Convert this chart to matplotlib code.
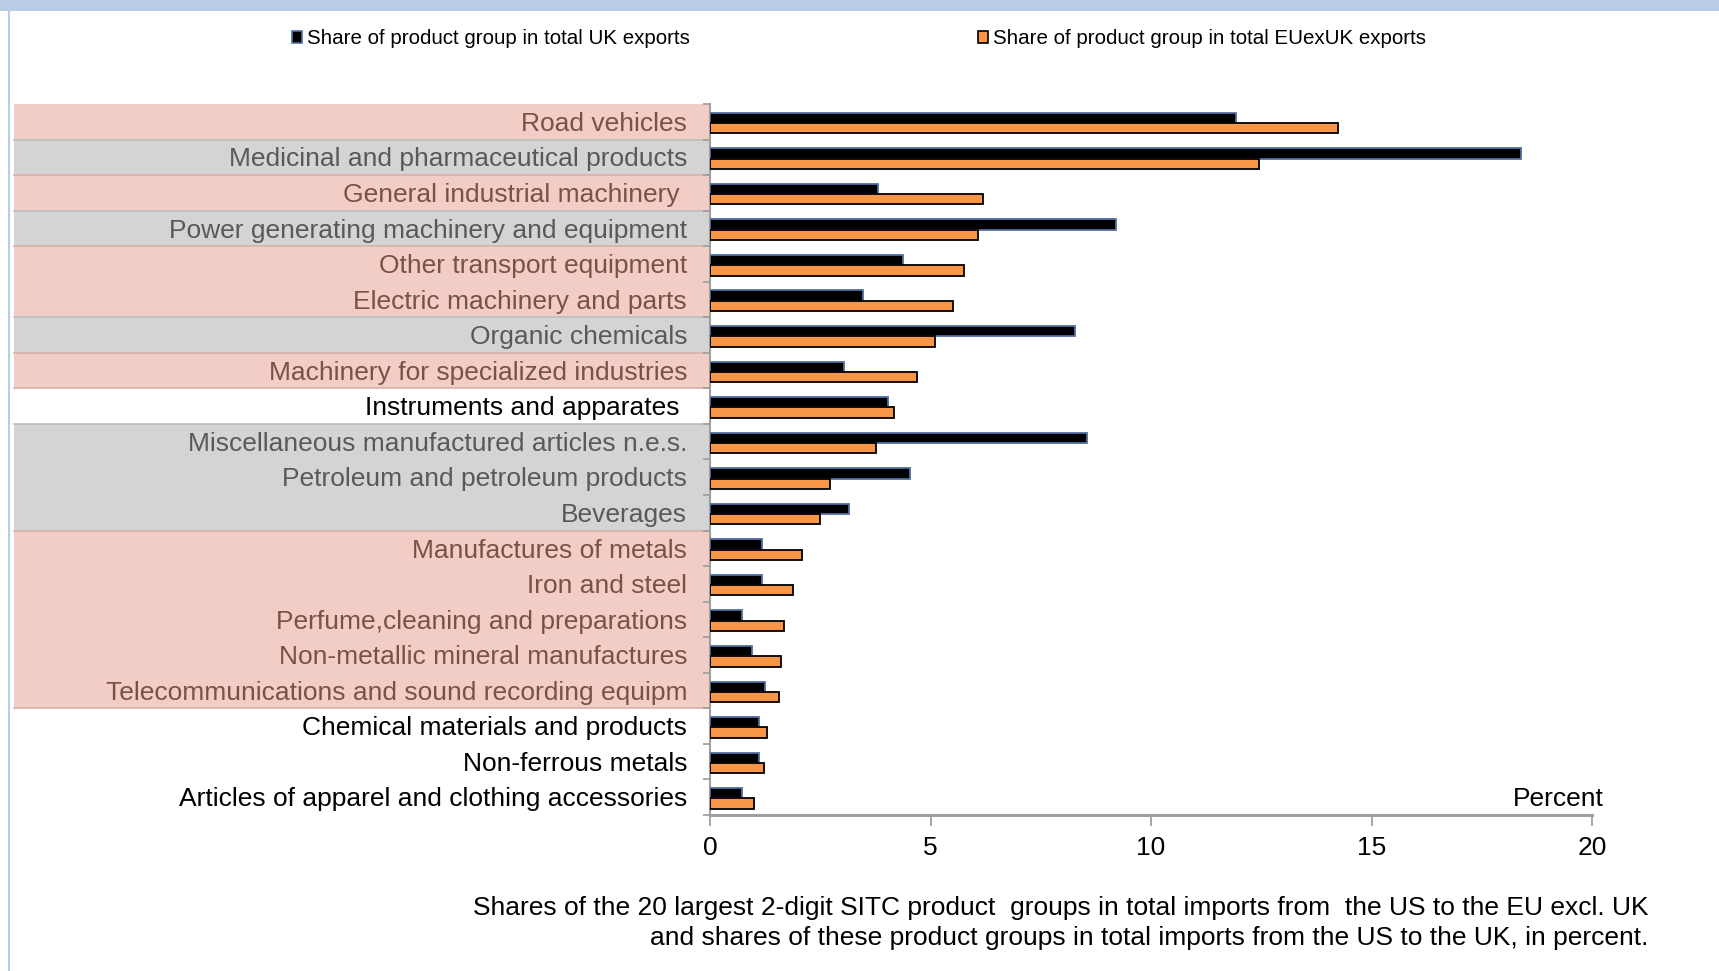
import matplotlib
matplotlib.use("Agg")
import matplotlib.pyplot as plt
from matplotlib.patches import Rectangle, Patch
from matplotlib.transforms import blended_transform_factory

plt.rcParams['font.family'] = ['Liberation Sans', 'DejaVu Sans']

categories = [
    "Road vehicles",
    "Medicinal and pharmaceutical products",
    "General industrial machinery ",
    "Power generating machinery and equipment",
    "Other transport equipment",
    "Electric machinery and parts",
    "Organic chemicals",
    "Machinery for specialized industries",
    "Instruments and apparates ",
    "Miscellaneous manufactured articles n.e.s.",
    "Petroleum and petroleum products",
    "Beverages",
    "Manufactures of metals",
    "Iron and steel",
    "Perfume,cleaning and preparations",
    "Non-metallic mineral manufactures",
    "Telecommunications and sound recording equipm",
    "Chemical materials and products",
    "Non-ferrous metals",
    "Articles of apparel and clothing accessories",
]
uk_share = [11.92, 18.38, 3.81, 9.20, 4.38, 3.48, 8.28, 3.03, 4.03, 8.56,
            4.53, 3.16, 1.17, 1.17, 0.72, 0.95, 1.24, 1.12, 1.12, 0.72]
eu_share = [14.23, 12.46, 6.19, 6.07, 5.75, 5.52, 5.10, 4.70, 4.18, 3.76,
            2.71, 2.49, 2.09, 1.89, 1.67, 1.62, 1.57, 1.29, 1.22, 0.99]
# band group per category: p = pink, g = grey, w = white
groups = ["p", "g", "p", "g", "p", "p", "g", "p", "w", "g",
          "g", "g", "p", "p", "p", "p", "p", "w", "w", "w"]
legend_labels = ["Share of product group in total UK exports",
                 "Share of product group in total EUexUK exports"]
xticks = [0, 5, 10, 15, 20]
caption = ("Shares of the 20 largest 2-digit SITC product  groups in total imports from  the US to the EU excl. UK\n"
           "and shares of these product groups in total imports from the US to the UK, in percent.")

FS = 19
W, H = 1719, 971
fig = plt.figure(figsize=(W / 100, H / 100), dpi=100)
ax_left, ax_right, ax_top, ax_bot = 710, 1592, 104, 815
ax = fig.add_axes([ax_left / W, 1 - ax_bot / H, (ax_right - ax_left) / W, (ax_bot - ax_top) / H])

# page decorations
fig.patches.append(Rectangle((0, 1 - 11 / H), 1, 11 / H, transform=fig.transFigure,
                             facecolor="#B9CDE5", edgecolor="none"))
fig.lines.append(plt.Line2D([9 / W, 9 / W], [0, 1 - 11 / H], transform=fig.transFigure,
                            color="#B9CDE5", lw=1.5))

band_fill = {"p": "#F2CDC5", "g": "#D4D4D4", "w": "white"}
text_col = {"p": "#7B5048", "g": "#595959", "w": "black"}
sep_col = {"p": "#D8B0A8", "g": "#BDBDBD", "w": "white"}

n = len(categories)
ys = list(range(n))
trans = blended_transform_factory(ax.transAxes, ax.transData)
xa0 = (14 - ax_left) / (ax_right - ax_left)
for i, g in enumerate(groups):
    if g != "w":
        ax.add_patch(Rectangle((xa0, i - 0.5), -xa0, 1, transform=trans, clip_on=False,
                               facecolor=band_fill[g], edgecolor="none", zorder=0))
    if i > 0 and groups[i - 1] != g:
        c = sep_col[g] if g != "w" else sep_col[groups[i - 1]]
        ax.plot([xa0, 0], [i - 0.5, i - 0.5], transform=trans, clip_on=False,
                color=c, lw=1.2, zorder=0.5)
    ax.text(-23 / (ax_right - ax_left), i + 0.06, categories[i], transform=trans, ha="right",
            va="center", fontsize=FS, color=text_col[g])

bh = 0.29
ax.barh([y - 0.11 for y in ys], uk_share, height=bh, color="black", edgecolor="#4F6FA0",
        lw=1.3, zorder=3, label=legend_labels[0])
ax.barh([y + 0.18 for y in ys], eu_share, height=bh, color="#F79646", edgecolor="black",
        lw=1.3, zorder=3, label=legend_labels[1])

ax.set_ylim(n - 0.5, -0.5)
ax.set_xlim(0, 20)
ax.set_yticks([y - 0.5 for y in ys] + [n - 0.5])
ax.set_yticklabels([])
ax.tick_params(axis="y", length=5, width=1.3, color="#A0A0A0", direction="out")
ax.set_xticks(xticks)
ax.set_xticklabels([str(t) for t in xticks], fontsize=FS)
ax.tick_params(axis="x", length=8, width=1.3, color="#A0A0A0", pad=7)
for s in ["top", "right"]:
    ax.spines[s].set_visible(False)
ax.spines["left"].set_color("#A0A0A0")
ax.spines["left"].set_linewidth(1.5)
ax.spines["bottom"].set_color("#A0A0A0")
ax.spines["bottom"].set_linewidth(2.2)
ax.patch.set_alpha(0)

ax.text(20.26, n - 1 + 0.06, "Percent", ha="right", va="center", fontsize=FS)

handles = [Patch(facecolor="black", edgecolor="#4F6FA0", lw=1.2),
           Patch(facecolor="#F79646", edgecolor="black", lw=1.2)]
fig.legend(handles, legend_labels, loc="center left", bbox_to_anchor=(292 / W, 1 - 39 / H),
           ncol=2, frameon=False, fontsize=14.8, handlelength=0.5, handleheight=0.5,
           handletextpad=0.25, columnspacing=14.0, borderpad=0, borderaxespad=0)

fig.text(1648 / W, 1 - 923 / H, caption, ha="right", va="center", fontsize=FS,
         linespacing=1.28)

fig.savefig("out.png", dpi=100)
